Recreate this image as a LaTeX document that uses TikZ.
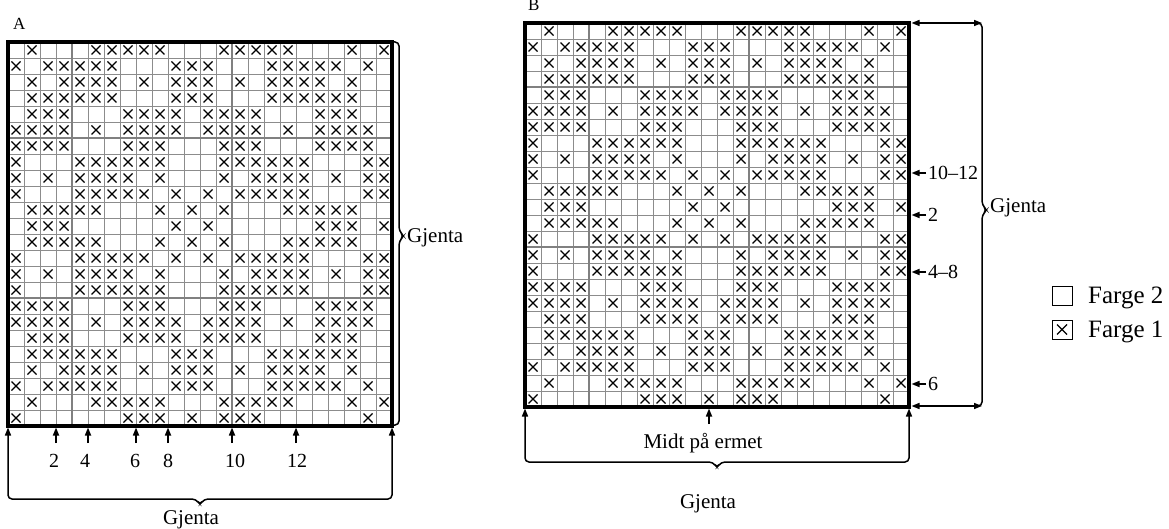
\documentclass[tikz,border=0pt]{standalone}
\usepackage{fontspec}
\setmainfont{Liberation Serif}
\usetikzlibrary{arrows.meta}
\def\patt{0/{1,5,6,7,8,9,13,14,15,16,17,21,23},
1/{0,2,3,4,5,6,10,11,12,16,17,18,19,20,22},
2/{1,3,4,5,6,8,10,11,12,14,16,17,18,19,21},
3/{1,2,3,4,5,6,10,11,12,16,17,18,19,20,21},
4/{1,2,3,7,8,9,10,12,13,14,15,19,20,21},
5/{0,1,2,3,5,7,8,9,10,12,13,14,15,17,19,20,21,22},
6/{0,1,2,3,7,8,9,13,14,15,19,20,21,22},
7/{0,4,5,6,7,8,9,13,14,15,16,17,18,22,23},
8/{0,2,4,5,6,7,9,13,15,16,17,18,20,22,23},
9/{0,4,5,6,7,8,10,12,14,15,16,17,18,22,23},
10/{1,2,3,4,5,9,11,13,17,18,19,20,21},
11/{1,2,3,10,12,19,20,21,23},
12/{1,2,3,4,5,9,11,13,17,18,19,20,21},
13/{0,4,5,6,7,8,10,12,14,15,16,17,18,22,23},
14/{0,2,4,5,6,7,9,13,15,16,17,18,20,22,23},
15/{0,4,5,6,7,8,9,13,14,15,16,17,18,22,23},
16/{0,1,2,3,7,8,9,13,14,15,19,20,21,22},
17/{0,1,2,3,5,7,8,9,10,12,13,14,15,17,19,20,21,22},
18/{1,2,3,7,8,9,10,12,13,14,15,19,20,21},
19/{1,2,3,4,5,6,10,11,12,16,17,18,19,20,21},
20/{1,3,4,5,6,8,10,11,12,14,16,17,18,19,21},
21/{0,2,3,4,5,6,10,11,12,16,17,18,19,20,22},
22/{1,5,6,7,8,9,13,14,15,16,17,21,23},
23/{0,7,8,9,11,13,14,15,22}}
\newcommand\knitchart[4]{%
\begin{scope}[shift={(#1,#2)}]
  \foreach \i in {0,...,24}{
    \draw[gridthin] (16*\i,0) -- (16*\i,384);
    \draw[gridthin] (0,16*\i) -- (384,16*\i);
  }
  \draw[gridmajor] (64,0) -- (64,384) (224,0) -- (224,384);
  \foreach \h in {#3} \draw[gridmajor] (0,16*\h) -- (384,16*\h);
  \foreach \r/\cols in \patt {
    \foreach \c in \cols {
      \draw[xmark] (16*\c+3.5,16*\r+3.5) -- (16*\c+12.5,16*\r+12.5)
                   (16*\c+3.5,16*\r+12.5) -- (16*\c+12.5,16*\r+3.5);
    }
  }
  \draw[border] (0,0) rectangle (384,384);
  \coordinate (#4-nw) at (0,0);
  \coordinate (#4-se) at (384,384);
\end{scope}}
\begin{document}
\begin{tikzpicture}[x=1pt,y=-1pt,
  gridthin/.style={draw=black!45,line width=0.8pt},
  gridmajor/.style={draw=black!50,line width=1.7pt},
  border/.style={draw=black,line width=3.5pt},
  xmark/.style={draw=black,line width=1.2pt},
  bracket/.style={draw=black,line width=1.5pt,rounded corners=4pt},
  tip/.style={-{Triangle[length=8pt,width=6pt]}},
  bothtips/.style={{Triangle[length=8pt,width=6pt]}-{Triangle[length=8pt,width=6pt]}},
  arr/.style={draw=black,line width=1.6pt,tip},
  lbl/.style={font=\fontsize{20}{24}\selectfont,inner sep=0pt},
  big/.style={font=\fontsize{21}{25}\selectfont,inner sep=0pt},
  title/.style={font=\fontsize{17}{20}\selectfont,inner sep=0pt},
  legtext/.style={font=\fontsize{25}{29}\selectfont,inner sep=0pt},
  legbox/.style={draw=black,line width=1pt}
]
\useasboundingbox (0,0) rectangle (1169,529);

% ---------- Chart A ----------
\node[title,anchor=base west] (labA) at (13,30) {A};
\knitchart{8}{42}{6,16}{A}

% right bracket of A
\draw[bracket] (394,42) -- (399,42) -- (399,231) -- (404,236) -- (399,241) -- (399,425) -- (394,425);
\node[big,anchor=west] (gjA1) at (407,238) {Gjenta};

% bottom bracket of A
\coordinate (Abl) at (8,427.5);
\coordinate (Abr) at (392,427.5);
\draw[bracket,bothtips] (Abl) -- (8,499) -- (196,499) -- (200,505) -- (204,499) -- (392,499) -- (Abr);
\node[big,anchor=base] (gjA2) at (191,524) {Gjenta};

\foreach \x/\t/\tx/\n in {56/2/54/a2, 88/4/85/a4, 136/6/135/a6, 168/8/168/a8, 232/10/235/a10, 296/12/297/a12}{
  \coordinate (\n-top) at (\x,427.5);
  \coordinate (\n-bot) at (\x,443);
  \draw[arr] (\n-bot) -- (\n-top);
  \node[lbl,anchor=base] (\n-lbl) at (\tx,467) {\t};
}

% ---------- Chart B ----------
\node[title,anchor=base west] (labB) at (528,11) {B};
\knitchart{525}{23}{4,14}{B}

% right bracket of B
\draw[bracket,bothtips] (982,23) -- (911.5,23);
\draw[bracket] (976,23) -- (982,23) -- (982,205) -- (987,210) -- (982,215) -- (982,406) -- (976,406);
\draw[bracket,bothtips] (982,406) -- (911.5,406);
\node[big,anchor=west] (gjB1) at (990,208) {Gjenta};

\foreach \y/\t/\n in {173/{10\textendash12}/b1012, 215/2/b2, 272/{4\textendash8}/b48, 384/6/b6}{
  \coordinate (\n-tip) at (911.5,\y);
  \coordinate (\n-tail) at (926,\y);
  \draw[arr] (\n-tail) -- (\n-tip);
  \node[lbl,anchor=west] (\n-lbl) at (928,\y) {\t};
}

% bottom bracket of B
\coordinate (Bbl) at (525,408.5);
\coordinate (Bbr) at (909,408.5);
\draw[bracket,bothtips] (Bbl) -- (525,462) -- (713,462) -- (717,468) -- (721,462) -- (909,462) -- (Bbr);
\coordinate (mid-top) at (709,408.5);
\coordinate (mid-bot) at (709,424);
\draw[arr] (mid-bot) -- (mid-top);
\node[big,anchor=base] (midt) at (703,448) {Midt på ermet};
\node[big,anchor=base] (gjB2) at (708,508) {Gjenta};

% ---------- Legend ----------
\draw[legbox] (1052,286) rectangle (1072,305);
\node[legtext,anchor=base west] (f2) at (1088,303) {Farge 2};
\draw[legbox] (1052,320) rectangle (1072,339);
\draw[xmark] (1057,324.5) -- (1067,334.5) (1057,334.5) -- (1067,324.5);
\node[legtext,anchor=base west] (f1) at (1088,337) {Farge 1};
\end{tikzpicture}
\end{document}
